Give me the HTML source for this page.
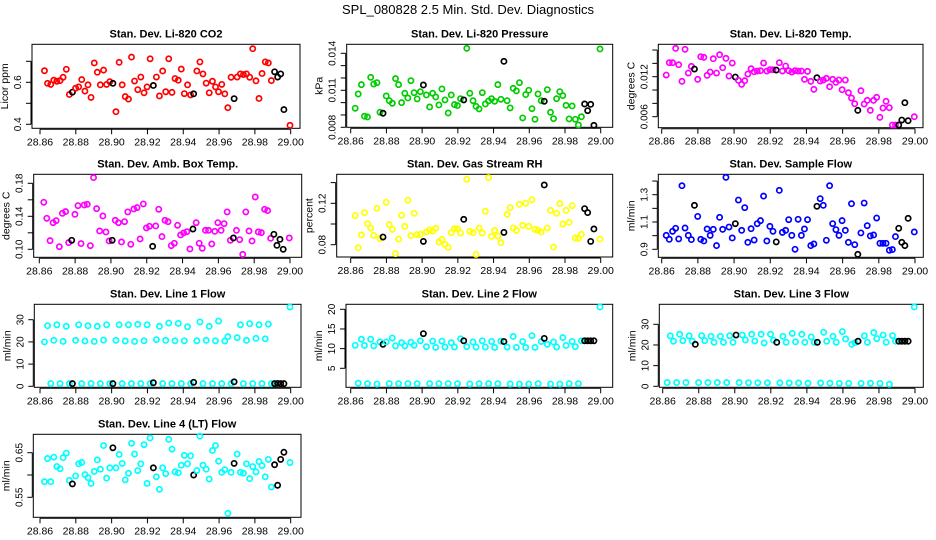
<!DOCTYPE html>
<html><head><meta charset="utf-8">
<style>
html,body{margin:0;padding:0;background:#fff;}
svg{display:block;font-family:"Liberation Sans",sans-serif;}
</style></head>
<body>
<svg id="chart" width="936" height="540" viewBox="0 0 936 540">
<rect width="936" height="540" fill="#fff"/>
<text x="468" y="14" text-anchor="middle" font-size="13">SPL_080828  2.5 Min. Std. Dev. Diagnostics</text>
</svg>
<script>
var times=[28.8625,28.8642,28.8660,28.8677,28.8694,28.8712,28.8729,28.8747,28.8764,28.8781,28.8799,28.8816,28.8833,28.8851,28.8868,28.8885,28.8903,28.8920,28.8937,28.8955,28.8972,28.8990,28.9007,28.9024,28.9042,28.9059,28.9076,28.9094,28.9111,28.9128,28.9146,28.9163,28.9181,28.9198,28.9215,28.9233,28.9250,28.9267,28.9285,28.9302,28.9319,28.9337,28.9354,28.9372,28.9389,28.9406,28.9424,28.9441,28.9458,28.9476,28.9493,28.9510,28.9528,28.9545,28.9563,28.9580,28.9597,28.9615,28.9632,28.9649,28.9667,28.9684,28.9701,28.9719,28.9736,28.9753,28.9771,28.9788,28.9806,28.9823,28.9840,28.9858,28.9875,28.9892,28.9910,28.9927,28.9944,28.9962,28.9979,28.9996];
var blackIdx=[9,22,35,48,61,74,75,76,77];
var xTicks=[28.86,28.88,28.90,28.92,28.94,28.96,28.98,29.00];
var xTickLabels=["28.86","28.88","28.90","28.92","28.94","28.96","28.98","29.00"];
var co2=[.655,.595,.590,.610,.605,.608,.624,.662,.542,.553,.572,.578,.613,.558,.588,.528,.692,.648,.588,.658,.590,.603,.595,.460,.695,.588,.532,.520,.720,.606,.565,.625,.550,.578,.712,.585,.625,.535,.654,.555,.712,.552,.618,.610,.663,.546,.588,.540,.545,.654,.697,.640,.596,.550,.605,.578,.555,.590,.545,.479,.624,.522,.625,.640,.637,.640,.624,.760,.607,.523,.642,.697,.692,.608,.650,.625,.640,.470,null,.395];
var pressure=[.00954,.0107,.01146,.0089,.00884,.01205,.01151,.01162,.00922,.00914,.01054,.01016,.00995,.01195,.01146,.0100,.01076,.01038,.01178,.01081,.0103,.01089,.01143,.01062,.00965,.01076,.01046,.00981,.01111,.01022,.00916,.01062,.00984,.00976,.01032,.01022,.0144,.01076,.01016,.0097,.00949,.01081,.00989,.01014,.01032,.01011,.01146,.01027,.01335,.01016,.00957,.01116,.01095,.01162,.00876,.01065,.011,.00951,.00865,.0107,.01016,.01011,.01105,.00922,.0087,.01032,.01089,.01057,.00978,.00868,.00973,.00865,.00819,.00886,.00989,.00935,.00986,.00816,null,.01435];
var liTemp=[.01225,.0141,.0141,.01625,.0138,.0113,.0161,.01255,.01355,.01315,.0116,.015,.0149,.0122,.0127,.0147,.01255,.0153,.01335,.01475,.0121,.01405,.01195,.01145,.01085,.0114,.0124,.0132,.01275,.01285,.0129,.01405,.01285,.01305,.01305,.013,.0141,.01285,.0136,.0129,.0127,.0129,.01285,.01285,.0116,.0128,.0113,.0101,.01185,.01135,.0115,.01175,.0105,.0116,.01115,.0115,.01005,.0115,.0096,.0088,.00795,.00695,.0099,.0079,.00845,.00695,.00845,.0089,.0059,.0073,.0083,.00735,.00475,.00475,.00475,.0055,.0081,.0054,null,.006];
var ambTemp=[.157,.1376,.1105,.1323,.1347,.1032,.1436,.1457,.1081,.1109,.1424,.1529,.1069,.1537,.1545,.1044,.1869,.1493,.1222,.1404,.121,.1101,.1109,.1351,.1323,.1089,.1335,.1453,.1061,.1489,.1505,.1125,.155,.1259,.1279,.1036,.1283,.1485,.1154,.1351,.1335,.1044,.1073,.1291,.1174,.1198,.1214,.1004,.1246,.1323,.1073,.1012,.123,.123,.1065,.1218,.1323,.123,.1311,.1453,.1109,.1137,.123,.1117,.0939,.1453,.1222,.1101,.1634,.121,.1202,.1485,.1469,.1133,.1182,.1048,.1121,.1,null,.1137];
var gasRH=[.1081,.0771,.0894,.111,.1003,.0961,.089,.1152,.0861,.0874,.121,.0994,.0948,.0713,.0855,.1084,.0977,.1229,.0887,.1103,.0897,.09,.0832,.0923,.0942,.0932,.0958,.0826,.0852,.0803,.0774,.0916,.0955,.0955,.0913,.1045,.1432,.0929,.0916,.0706,.0961,.0913,.1123,.1448,.0881,.0939,.0884,.0819,.0919,.1094,.1158,.0961,.0939,.119,.0987,.12,.0977,.1235,.0948,.0939,.0923,.1377,.0961,.1132,.0777,.1103,.1197,.1,.1132,.1016,.1177,.0865,.0861,.09,.1148,.111,.0832,.0952,null,.0855];
var sampleFlow=[1.002,.973,1.032,1.054,.976,1.366,1.056,1.002,.971,1.222,1.141,.973,.961,1.049,1.002,1.046,.927,1.134,1.046,1.427,1.063,.983,1.088,1.261,1.039,1.205,.951,1.051,.968,1.088,1.11,1.29,.961,1.068,1.032,.954,1.332,1.024,1.039,1.117,1.002,.9,1.12,1.002,1.049,1.117,.927,.939,1.215,1.271,1.222,.966,1.366,1.088,1.044,1.002,1.110,1.039,.951,1.234,.934,.863,1.020,1.239,1.073,.998,1.005,1.129,.944,.944,.944,.893,.898,.993,1.054,.951,.927,1.127,null,1.027];
var line1=[20,27.3,1.2,20.7,27.7,1.2,20.2,27,1.2,1.2,20.7,27.7,1.2,20.4,27.3,1.2,20.2,27,1.2,20.8,27.7,1.2,1.2,20.7,27.7,1.2,20.4,27.7,1.2,20.2,27.9,1.2,20.5,27.7,1.2,1.6,21,27,1.2,20.7,28.5,1.2,20.5,28.3,1.2,20.5,26.8,1.2,1.8,20.5,29,1.2,20.7,27,1.2,20.5,29.4,1.2,20.4,22.4,1.2,2,21.9,27.7,1.2,20.7,28.2,1.2,21.6,27.7,1.2,21.4,28,1.2,1.2,1.3,1.2,1.2,null,35.7];
var line2=[10.85,1.2,12.4,10.8,1.1,12.4,10.7,1.0,11.7,11.1,11.7,1.1,12.7,10.7,1.1,11.5,10.7,1.1,11.6,10.85,1.1,12.0,13.8,10.5,1.1,11.9,10.3,1.1,11.9,10.4,1.1,11.5,10.4,1.1,12.5,12.0,10.5,1.0,11.7,10.4,1.1,12.0,10.4,1.1,11.8,10.3,1.1,11.9,11.8,10.4,1.0,13.1,10.3,1.0,11.8,10.3,1.0,13.3,10.3,1.1,11.8,12.6,11.1,1.0,11.7,10.4,1.0,12.8,10.8,1.1,11.8,10.5,1.1,12.0,12,12,12,12,null,20.6];
var line3=[1.8,24.4,21.8,1.8,25.2,22.1,1.8,24.4,21.8,20.3,1.8,24.5,22.1,1.8,24.2,21.3,1.8,24.2,21.3,1.8,24.5,21.3,24.8,1.8,24.8,22.4,1.7,25.2,21.9,1.7,25.2,21.0,1.7,25.2,22.3,21.3,1.7,24.2,21.3,1.6,25.6,21.5,1.6,25.2,21.3,1.5,23.9,21.3,21.3,1.6,26.1,21.8,1.5,24.2,21.3,1.4,26.5,22.9,1.4,20.3,21.1,21.8,1.4,24.4,21.3,1.5,26.0,23.1,1.4,24.8,21.3,1.0,24.5,21.8,21.8,21.8,21.8,21.8,null,38.4];
var line4=[.585,.637,.585,.640,.619,.614,.639,.649,.588,.580,.598,.625,.628,.601,.594,.581,.608,.634,.613,.666,.593,.616,.661,.616,.646,.626,.589,.604,.671,.647,.610,.625,.668,.581,.683,.616,.596,.568,.616,.603,.680,.658,.607,.605,.622,.644,.625,.643,.600,.610,.687,.622,.613,.591,.655,.666,.631,.606,.612,.514,.606,.626,.647,.606,.604,.625,.592,.619,.607,.630,.621,.596,.635,.573,.623,.577,.635,.651,null,.628];

var panels=[
 {name:"co2",title:"Stan. Dev. Li-820 CO2",ylab:"Licor ppm",data:co2,color:"#ff0000",bx:[32,300],by:[44.3,128.3],xt:[40,290.7],yv:[0.4,0.6],yp:[124.3,82.3],ticks:[0.4,0.5,0.6,0.7],labels:["0.4","","0.6",""]},
 {name:"pressure",title:"Stan. Dev. Li-820 Pressure",ylab:"kPa",data:pressure,color:"#00cd00",bx:[346.7,612.7],by:[44.3,127.3],xt:[350.7,600.7],yv:[0.008,0.014],yp:[127.3,53.3],ticks:[0.008,0.009,0.010,0.011,0.012,0.013,0.014],labels:["0.008","","","0.011","","","0.014"]},
 {name:"li-temp",title:"Stan. Dev. Li-820 Temp.",ylab:"degrees C",data:liTemp,color:"#ff00ff",bx:[658.3,923],by:[44.3,127.7],xt:[661.7,915],yv:[0.006,0.012],yp:[116.7,76.7],ticks:[0.006,0.008,0.010,0.012,0.014,0.016],labels:["0.006","","","0.012","",""]},
 {name:"amb-temp",title:"Stan. Dev. Amb. Box Temp.",ylab:"degrees C",data:ambTemp,color:"#ff00ff",bx:[33.7,301.7],by:[174.3,257.3],xt:[39.3,290],yv:[0.10,0.18],yp:[249.3,183.3],ticks:[0.10,0.12,0.14,0.16,0.18],labels:["0.10","","0.14","","0.18"]},
 {name:"gas-rh",title:"Stan. Dev. Gas Stream RH",ylab:"percent",data:gasRH,color:"#ffff00",bx:[336.7,612.7],by:[174.3,257],xt:[350.7,600.7],yv:[0.08,0.12],yp:[244.7,203.3],ticks:[0.08,0.10,0.12,0.14],labels:["0.08","","0.12",""]},
 {name:"sample-flow",title:"Stan. Dev. Sample Flow",ylab:"ml/min",data:sampleFlow,color:"#0000ff",bx:[658.3,923.3],by:[174.3,257.3],xt:[661.7,915],yv:[0.9,1.3],yp:[249.3,194.7],ticks:[0.9,1.0,1.1,1.2,1.3,1.4],labels:["0.9","","1.1","","1.3",""]},
 {name:"line1-flow",title:"Stan. Dev. Line 1 Flow",ylab:"ml/min",data:line1,color:"#00ffff",bx:[34.3,301],by:[304.3,387.3],xt:[40,290.7],yv:[0,30],yp:[386.3,319.7],ticks:[0,10,20,30],labels:["0","10","20","30"]},
 {name:"line2-flow",title:"Stan. Dev. Line 2 Flow",ylab:"ml/min",data:line2,color:"#00ffff",bx:[346,612.7],by:[304.3,387.3],xt:[350.7,600.7],yv:[5,20],yp:[368.3,309.3],ticks:[5,10,15,20],labels:["5","10","15","20"]},
 {name:"line3-flow",title:"Stan. Dev. Line 3 Flow",ylab:"ml/min",data:line3,color:"#00ffff",bx:[659.3,923.3],by:[304.3,387.3],xt:[662.7,915],yv:[0,30],yp:[386.3,324.3],ticks:[0,10,20,30],labels:["0","10","20","30"]},
 {name:"line4-flow",title:"Stan. Dev. Line 4 (LT) Flow",ylab:"ml/min",data:line4,color:"#00ffff",bx:[33.3,301],by:[434.3,517.3],xt:[40,290.7],yv:[0.55,0.65],yp:[497.3,452.7],ticks:[0.55,0.60,0.65],labels:["0.55","","0.65"]}
];

var NS="http://www.w3.org/2000/svg";
var svg=document.getElementById("chart");
function mk(tag,attrs,parent){var e=document.createElementNS(NS,tag);for(var k in attrs)e.setAttribute(k,attrs[k]);(parent||svg).appendChild(e);return e;}

panels.forEach(function(p){
  var g=mk("g",{});
  
  
  var xs=function(v){return p.xt[0]+(v-28.86)/0.14*(p.xt[1]-p.xt[0]);};
  var ys=function(v){return p.yp[0]+(v-p.yv[0])*(p.yp[1]-p.yp[0])/(p.yv[1]-p.yv[0]);};
  var cx=(p.bx[0]+p.bx[1])/2;
  var t=mk("text",{x:cx,y:p.by[0]-7,"text-anchor":"middle","font-size":"11","font-weight":"bold"},g);
  t.textContent=p.title;
  
  
  var box=mk("rect",{x:p.bx[0],y:p.by[0],width:p.bx[1]-p.bx[0],height:p.by[1]-p.by[0],fill:"none",stroke:"#000","stroke-width":"1"},g);
  
  
  var xa=mk("g",{},g);
  
  
  var yb=p.by[1]+1;
  mk("line",{x1:xs(xTicks[0]),x2:xs(xTicks[xTicks.length-1]),y1:yb,y2:yb,stroke:"#000"},xa);
  xTicks.forEach(function(v,i){
    var x=xs(v);
    mk("line",{x1:x,x2:x,y1:yb,y2:yb+5,stroke:"#000"},xa);
    var tl=mk("text",{x:x,y:yb+16,"text-anchor":"middle","font-size":"10.5"},xa);
    tl.textContent=xTickLabels[i];
    
    
  });
  var ya=mk("g",{},g);
  
  
  var xl=p.bx[0]-1;
  mk("line",{x1:xl,x2:xl,y1:ys(p.ticks[0]),y2:ys(p.ticks[p.ticks.length-1]),stroke:"#000"},ya);
  p.ticks.forEach(function(v,i){
    var y=ys(v);
    mk("line",{x1:xl-5,x2:xl,y1:y,y2:y,stroke:"#000"},ya);
    if(p.labels[i]){
      var tx=xl-10;
      var tl=mk("text",{x:tx,y:y,"text-anchor":"middle","font-size":"10","transform":"rotate(-90 "+tx+" "+y+")"},ya);
      tl.textContent=p.labels[i];
      
      
    }
  });
  var lx=p.bx[0]-24, ly=(p.by[0]+p.by[1])/2;
  var yl=mk("text",{x:lx,y:ly,"text-anchor":"middle","font-size":"10.5",transform:"rotate(-90 "+lx+" "+ly+")"},g);
  yl.textContent=p.ylab;
  
  
  var pts=mk("g",{},g);
  
  
  p.data.forEach(function(v,i){
    if(v===null||v===undefined)return;
    var isB=blackIdx.indexOf(i)>=0;
    var c=mk("circle",{cx:xs(times[i]),cy:ys(v),r:2.6,fill:"none",stroke:isB?"#000":p.color,"stroke-width":"1.7"},pts);
    
    
  });
});
</script>
</body></html>
